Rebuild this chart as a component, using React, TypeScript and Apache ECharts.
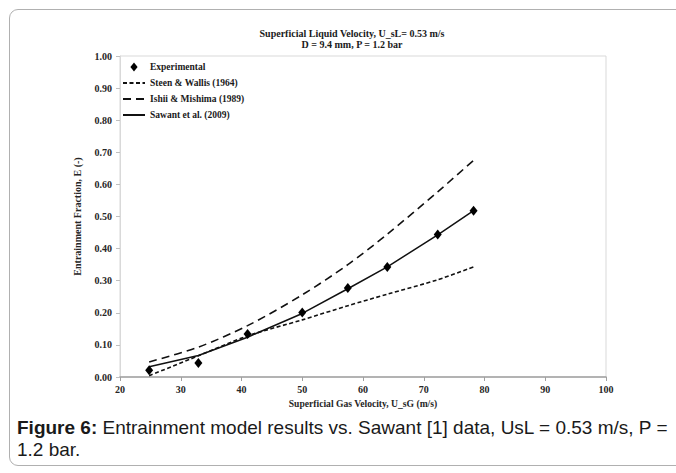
import React, { useEffect, useRef } from "react";
import * as echarts from "echarts";

const titleLines = ["Superficial Liquid Velocity, U_sL= 0.53 m/s", "D = 9.4 mm, P = 1.2 bar"];
const xName = "Superficial Gas Velocity, U_sG (m/s)";
const yName = "Entrainment Fraction, E (-)";
const seriesNames = ["Experimental", "Steen & Wallis (1964)", "Ishii & Mishima (1989)", "Sawant et al. (2009)"];

const gasVelocity = [24.8, 32.9, 41.0, 50.0, 57.5, 64.0, 72.3, 78.2];
const experimental = [0.021, 0.044, 0.134, 0.201, 0.277, 0.343, 0.444, 0.518];
const steenWallis = [0.004, 0.066, 0.128, 0.178, 0.222, 0.258, 0.303, 0.343];
const ishiiMishima = [0.047, 0.093, 0.16, 0.256, 0.35, 0.445, 0.577, 0.675];
const sawant = [0.032, 0.067, 0.124, 0.198, 0.275, 0.343, 0.443, 0.518];

const xMin = 20;
const xMax = 100;
const xStep = 10;
const yMin = 0;
const yMax = 1;
const yStep = 0.1;

const pairs = (ys: number[]) => gasVelocity.map((x, i) => [x, ys[i]]);

const SERIF = "'Liberation Serif', 'Times New Roman', serif";
const hiddenSymbol = { color: "transparent", borderColor: "transparent", borderWidth: 0 };

export default function App() {
  const ref = useRef<HTMLDivElement>(null);

  useEffect(() => {
    if (!ref.current) return;
    const chart = echarts.init(ref.current, undefined, { renderer: "svg" });
    const labelStyle = { fontFamily: SERIF, fontWeight: "bold" as const, fontSize: 10, color: "#262626" };
    chart.setOption({
      animation: false,
      backgroundColor: "transparent",
      title: {
        text: titleLines.join("\n"),
        left: 347,
        top: 23,
        textAlign: "center",
        textStyle: { fontFamily: SERIF, fontWeight: "bold", fontSize: 10, lineHeight: 11, color: "#1a1a1a" },
      },
      legend: {
        orient: "vertical",
        left: 122,
        top: 61,
        itemWidth: 22,
        itemHeight: 9,
        itemGap: 4,
        padding: 0,
        symbolKeepAspect: true,
        textStyle: { fontFamily: SERIF, fontWeight: "bold", fontSize: 9.5, lineHeight: 12, color: "#1a1a1a" },
        data: [
          { name: seriesNames[0], icon: "path://M4,0 L8,5 L4,10 L0,5 Z", itemStyle: { color: "#000", opacity: 1 } },
          { name: seriesNames[1], itemStyle: hiddenSymbol },
          { name: seriesNames[2], itemStyle: hiddenSymbol },
          { name: seriesNames[3], itemStyle: hiddenSymbol },
        ],
      },
      grid: {
        left: 120,
        top: 56,
        width: 486,
        height: 321,
        show: true,
        borderColor: "#d9d9d9",
        borderWidth: 1,
      },
      xAxis: {
        type: "value",
        min: xMin,
        max: xMax,
        interval: xStep,
        name: xName,
        nameLocation: "middle",
        nameGap: 21,
        nameTextStyle: { fontFamily: SERIF, fontWeight: "bold", fontSize: 9.6, color: "#262626" },
        axisLine: { show: true, lineStyle: { color: "#a0a0a0", width: 1.5 } },
        axisTick: { show: true, inside: false, length: 4, lineStyle: { color: "#a0a0a0" } },
        axisLabel: { ...labelStyle, margin: 7 },
        splitLine: { show: false },
      },
      yAxis: {
        type: "value",
        min: yMin,
        max: yMax,
        interval: yStep,
        name: yName,
        nameLocation: "middle",
        nameGap: 38,
        nameTextStyle: { fontFamily: SERIF, fontWeight: "bold", fontSize: 10, color: "#262626" },
        axisLine: { show: true, lineStyle: { color: "#d9d9d9", width: 1 } },
        axisTick: { show: true, inside: false, length: 4, lineStyle: { color: "#bfbfbf" } },
        axisLabel: { ...labelStyle, margin: 8, formatter: (v: number) => v.toFixed(2) },
        splitLine: { show: false },
      },
      series: [
        {
          name: seriesNames[0],
          type: "scatter",
          data: pairs(experimental),
          symbol: "diamond",
          symbolSize: [8, 10],
          itemStyle: { color: "#000", opacity: 1 },
          z: 5,
        },
        {
          name: seriesNames[1],
          type: "line",
          data: pairs(steenWallis),
          showSymbol: false,
          symbol: "none",
          smooth: 0.3,
          lineStyle: { color: "#111", width: 1.6, type: [4, 2.5] },
          itemStyle: { color: "#111" },
        },
        {
          name: seriesNames[2],
          type: "line",
          data: pairs(ishiiMishima),
          showSymbol: false,
          symbol: "none",
          smooth: 0.3,
          lineStyle: { color: "#111", width: 1.6, type: [8, 5] },
          itemStyle: { color: "#111" },
        },
        {
          name: seriesNames[3],
          type: "line",
          data: pairs(sawant),
          showSymbol: false,
          symbol: "none",
          lineStyle: { color: "#111", width: 1.5, type: "solid" },
          itemStyle: { color: "#111" },
        },
      ],
    });
    return () => chart.dispose();
  }, []);

  return (
    <div style={{ position: "fixed", left: 0, top: 0, width: 676, height: 473, overflow: "hidden", background: "#fff" }}>
      <div
        style={{
          position: "absolute",
          left: 9,
          top: 9,
          width: 700,
          height: 457,
          border: "1px solid #b0b0b0",
          borderRadius: 9,
          boxSizing: "border-box",
        }}
      />
      <div ref={ref} style={{ position: "absolute", left: 0, top: 0, width: 676, height: 473 }} />
      <div
        style={{
          position: "absolute",
          left: 17,
          top: 417,
          width: 659,
          fontFamily: "'Liberation Sans', Arial, sans-serif",
          fontSize: 19,
          lineHeight: "22px",
          color: "#1a1a1a",
          whiteSpace: "nowrap",
        }}
      >
        <b>Figure 6:</b> Entrainment model results vs. Sawant [1] data, UsL = 0.53 m/s, P =
        <br />
        1.2 bar.
      </div>
    </div>
  );
}
